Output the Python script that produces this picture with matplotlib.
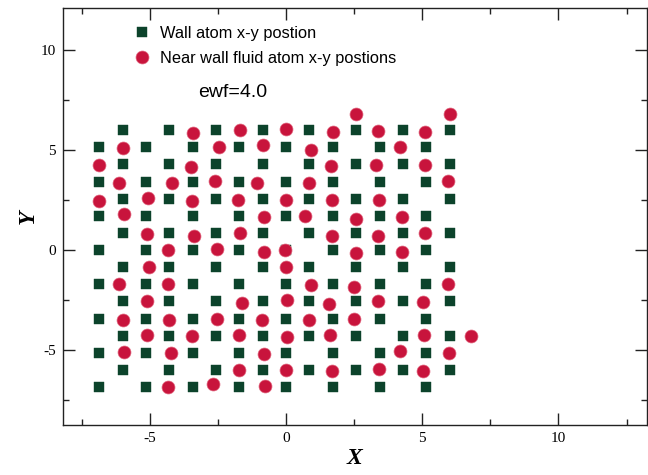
import matplotlib
matplotlib.use('Agg')
import matplotlib.pyplot as plt
from matplotlib.ticker import MultipleLocator

plt.rcParams['axes.unicode_minus'] = False

# Wall lattice: column x positions and row y positions
wall_cols = [-6.86, -6.0, -5.14, -4.29, -3.43, -2.57, -1.71, -0.86, 0.0,
             0.86, 1.71, 2.57, 3.43, 4.29, 5.14, 6.0]
wall_rows = [6.0, 5.14, 4.29, 3.43, 2.57, 1.71, 0.86, 0.0, -0.86, -1.71,
             -2.57, -3.43, -4.29, -5.14, -6.0, -6.86]

# Near-wall fluid atom positions
fluid_x = [2.57, 6.0,
           -3.42, -1.69, 0.0, 1.72, 3.38, 5.1,
           -6.0, -2.46, -0.83, 0.91, 4.2,
           -6.88, -3.5, 1.65, 3.3, 5.1,
           -6.15, -4.2, -2.6, -1.05, 0.83, 5.95,
           -6.85, -5.07, -3.45, -1.75, 0.0, 1.7, 3.4,
           -5.95, -0.82, 0.7, 2.55, 4.25,
           -5.12, -3.38, -1.7, 1.7, 3.38, 5.1,
           -4.35, -2.55, -0.82, -0.03, 2.55, 4.27,
           -5.05, 0.0,
           -6.12, -4.35, 0.9, 2.5, 5.95,
           -5.12, -1.6, 0.02, 1.58, 3.38, 5.02,
           -6.0, -4.3, -2.55, -0.9, 0.83, 2.5,
           -5.1, -3.45, -1.72, 0.02, 1.62, 5.07, 6.8,
           -5.95, -4.23, -0.82, 4.17, 5.98,
           -1.72, -0.02, 1.7, 3.4, 5.03,
           -4.35, -2.7, -0.78]
fluid_y = [6.8, 6.8,
           5.88, 6.03, 6.08, 5.93, 5.95, 5.93,
           5.13, 5.16, 5.24, 4.99, 5.16,
           4.27, 4.15, 4.19, 4.27, 4.27,
           3.37, 3.37, 3.44, 3.37, 3.37, 3.44,
           2.48, 2.6, 2.48, 2.53, 2.51, 2.53, 2.51,
           1.81, 1.64, 1.72, 1.56, 1.64,
           0.8, 0.72, 0.84, 0.72, 0.72, 0.84,
           0.0, 0.05, -0.07, 0.0, -0.12, -0.07,
           -0.82, -0.82,
           -1.71, -1.71, -1.74, -1.83, -1.71,
           -2.56, -2.63, -2.5, -2.68, -2.55, -2.6,
           -3.52, -3.52, -3.43, -3.52, -3.52, -3.43,
           -4.24, -4.32, -4.24, -4.36, -4.24, -4.27, -4.32,
           -5.1, -5.17, -5.19, -5.06, -5.17,
           -5.98, -5.98, -6.06, -5.95, -6.06,
           -6.87, -6.7, -6.82]

legend_labels = ["Wall atom x-y postion", "Near wall fluid atom x-y postions"]
annotation = "ewf=4.0"

# wall atoms sit on checkerboard sites (row + column odd)
wall_x = [x for r, y in enumerate(wall_rows) for c, x in enumerate(wall_cols) if (r + c) % 2 == 1]
wall_y = [y for r, y in enumerate(wall_rows) for c, x in enumerate(wall_cols) if (r + c) % 2 == 1]

fig = plt.figure(figsize=(6.48, 4.75), dpi=100)
ax = fig.add_axes([62.7 / 648, (475 - 425) / 475, (647 - 62.7) / 648, (425 - 8.3) / 475])

sq_color = '#0c432b'
ci_color = '#c8143c'
ax.plot(wall_x, wall_y, linestyle='none', marker='s', markersize=7.2,
        markerfacecolor=sq_color, markeredgecolor=sq_color, markeredgewidth=0.3,
        label=legend_labels[0], zorder=2)
ax.plot(fluid_x, fluid_y, linestyle='none', marker='o', markersize=9.3,
        markerfacecolor=ci_color, markeredgecolor='#e0607a', markeredgewidth=0.5,
        label=legend_labels[1], zorder=3)

ax.set_xlim(-8.2, 13.25)
ax.set_ylim(-8.75, 12.1)

ax.xaxis.set_major_locator(MultipleLocator(5))
ax.xaxis.set_minor_locator(MultipleLocator(2.5))
ax.yaxis.set_major_locator(MultipleLocator(5))
ax.yaxis.set_minor_locator(MultipleLocator(2.5))
ax.tick_params(which='both', direction='in', top=True, right=True, color='#222222')
ax.tick_params(which='major', length=8.5, width=1.0, labelsize=11, pad=5)
ax.tick_params(which='minor', length=4.5, width=1.0)
for lab in ax.get_xticklabels() + ax.get_yticklabels():
    lab.set_family('Liberation Serif')
for s in ax.spines.values():
    s.set_linewidth(1.0)
    s.set_color('#222222')

ax.set_xlabel('X', family='Liberation Serif', fontweight='bold', style='italic',
              fontsize=17, labelpad=2)
ax.set_ylabel('Y', family='Liberation Serif', fontweight='bold', style='italic',
              fontsize=17, labelpad=1)

leg = ax.legend(loc='upper left', bbox_to_anchor=(0.1, 0.985), frameon=False,
                prop={'family': 'Liberation Sans', 'size': 11.8},
                handletextpad=0.5, labelspacing=0.6, borderaxespad=0.3,
                handlelength=1.2)

ax.text(-1.96, 7.9, annotation, family='Liberation Sans', fontsize=14,
        ha='center', va='center')

fig.savefig('out.png', dpi=100)
